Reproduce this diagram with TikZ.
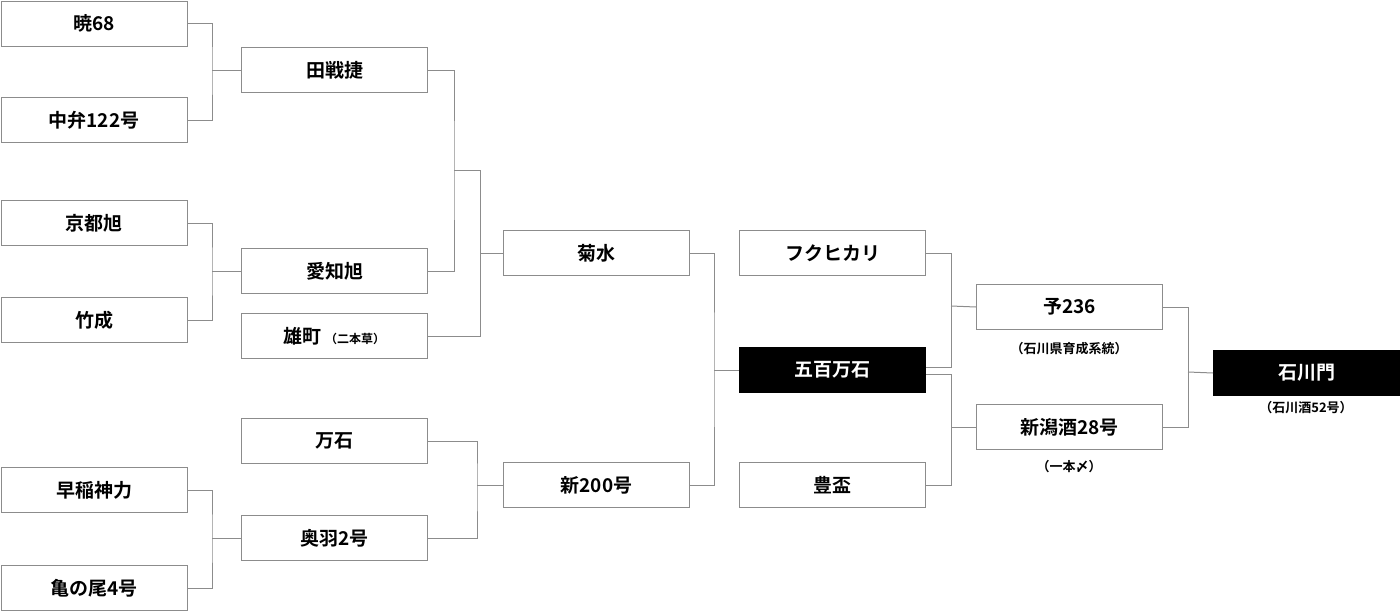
\documentclass[tikz,border=0pt]{standalone}
\usepackage{fontspec}
\setmainfont{Noto Sans CJK JP}[BoldFont={* Bold}]
\tikzset{
 bx/.style={draw=black!45,line width=1pt,minimum width=186pt,minimum height=45pt,inner sep=0pt,font=\fontsize{19}{20}\selectfont\bfseries,anchor=north west},
 blk/.style={bx,fill=black,draw=black,text=white},
 ln/.style={draw=black!45,line width=1pt},
 sub/.style={font=\fontsize{13}{14}\selectfont\bfseries}
}
\begin{document}
\begin{tikzpicture}[x=1pt,y=-1pt]
\useasboundingbox (0,0) rectangle (1400,611);
\node[bx] (a1) at (0.5,0.5) {暁68};
\node[bx] (a2) at (0.5,97) {中弁122号};
\node[bx] (a3) at (0.5,200) {京都旭};
\node[bx] (a4) at (0.5,297) {竹成};
\node[bx] (a5) at (0.5,467) {早稲神力};
\node[bx] (a6) at (0.5,565) {亀の尾4号};
\node[bx] (b1) at (241,47) {田戦捷};
\node[bx] (b2) at (241,248) {愛知旭};
\node[bx] (b3) at (241,313) {雄町\,{\fontsize{12}{13}\selectfont（二本草）}};
\node[bx] (b4) at (241,418) {万石};
\node[bx] (b5) at (241,515) {奥羽2号};
\node[bx] (c1) at (503,230) {菊水};
\node[bx] (c2) at (503,462) {新200号};
\node[bx] (d1) at (739,230) {フクヒカリ};
\node[blk] (d2) at (739,347) {五百万石};
\node[bx] (d3) at (739,462) {豊盃};
\node[bx] (e1) at (976,284) {予236};
\node[bx] (e2) at (976,404) {新潟酒28号};
\node[blk] (f1) at (1213,350) {石川門};
\node[sub] (s1) at (1069,349) {（石川県育成系統）};
\node[sub] (s2) at (1069,467) {（一本〆）};
\node[sub] (s3) at (1306,408) {（石川酒52号）};
% brackets
\draw[ln] (a1.east) -| (212,70) |- (a2.east);
\draw[ln] (212,70) -- (b1.west);
\draw[ln] (a3.east) -| (212,271) |- (a4.east);
\draw[ln] (212,271) -- (b2.west);
\draw[ln] (a5.east) -| (212,538) |- (a6.east);
\draw[ln] (212,538) -- (b5.west);
\draw[ln] (b1.east) -| (454,170) |- (b2.east);
\draw[ln] (454,170) -- (480,170);
\draw[ln] (480,170) |- (b3.east);
\draw[ln] (480,253) -- (c1.west);
\draw[ln] (b4.east) -| (477,485) |- (b5.east);
\draw[ln] (477,485) -- (c2.west);
\draw[ln] (c1.east) -| (714,370) |- (c2.east);
\draw[ln] (714,370) -- (d2.west);
\draw[ln] (d1.east) -| (951,306) |- ([yshift=3pt]d2.east);
\draw[ln] (951,306) -- (e1.west);
\draw[ln] ([yshift=-4pt]d2.east) -| (951,427) |- (d3.east);
\draw[ln] (951,427) -- (e2.west);
\draw[ln] (e1.east) -| (1188,372) |- (e2.east);
\draw[ln] (1188,372) -- (f1.west);
\end{tikzpicture}
\end{document}
